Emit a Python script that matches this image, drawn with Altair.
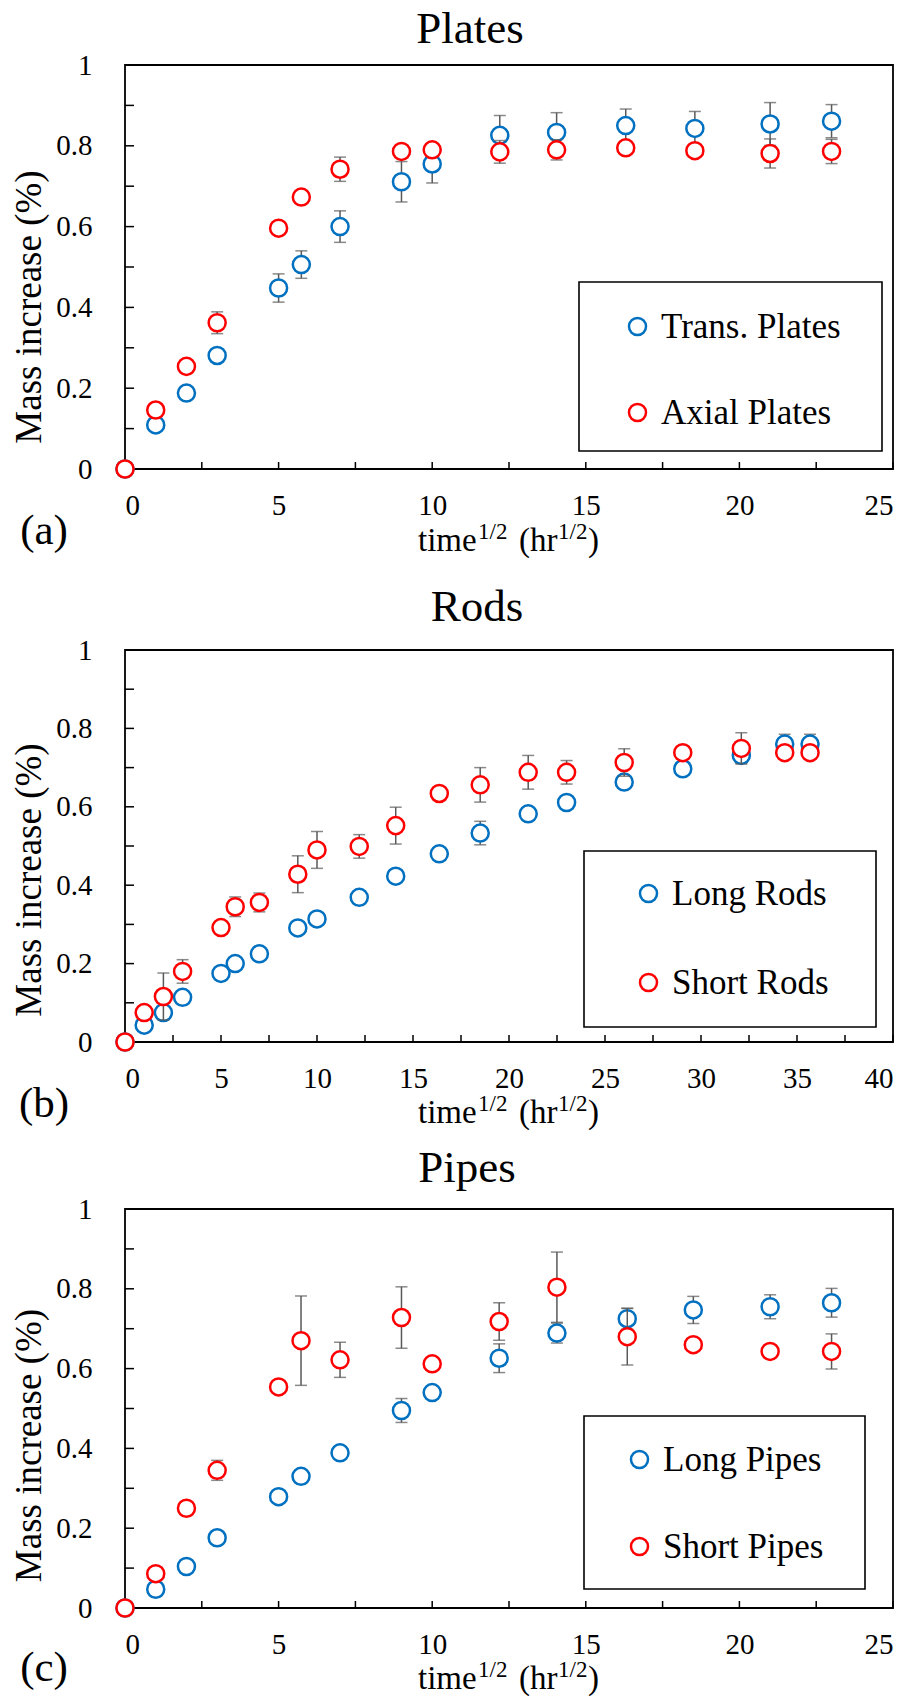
import altair as alt
import pandas as pd

FONT = "Liberation Serif"
BLUE = "#0070C0"
RED = "#FF0000"
ERRC = "#595959"

# ---------------- data ----------------
plates_x = [0, 1, 2, 3, 5, 5.74, 7, 9, 10, 12.2, 14.05, 16.3, 18.55, 21, 23]
trans_y = [0, 0.109, 0.188, 0.281, 0.448, 0.506, 0.600, 0.711, 0.755, 0.826, 0.833, 0.850, 0.843, 0.854, 0.861]
trans_e = [0, 0, 0, 0, 0.035, 0.034, 0.039, 0.05, 0.047, 0.049, 0.049, 0.041, 0.042, 0.053, 0.041]
axial_y = [0, 0.146, 0.254, 0.362, 0.596, 0.673, 0.742, 0.786, 0.790, 0.785, 0.790, 0.795, 0.788, 0.781, 0.786]
axial_e = [0, 0, 0, 0.027, 0, 0, 0.03, 0, 0, 0.028, 0.025, 0, 0, 0.036, 0.03]

rods_x = [0, 1, 2, 3, 5, 5.74, 7, 9, 10, 12.2, 14.1, 16.37, 18.5, 21, 23, 26, 29.05, 32.1, 34.36, 35.68]
long_rods_y = [0, 0.043, 0.075, 0.114, 0.175, 0.200, 0.225, 0.291, 0.314, 0.369, 0.423, 0.480, 0.533,
               0.582, 0.611, 0.663, 0.697, 0.731, 0.760, 0.760]
long_rods_e = [0, 0, 0, 0, 0, 0, 0, 0, 0, 0, 0, 0, 0.03, 0, 0, 0, 0, 0.02, 0.025, 0.025]
short_rods_y = [0, 0.075, 0.116, 0.180, 0.292, 0.345, 0.356, 0.428, 0.490, 0.499, 0.552, 0.634, 0.656,
                0.688, 0.688, 0.713, 0.738, 0.749, 0.738, 0.738]
short_rods_e = [0, 0, 0.06, 0.03, 0, 0.025, 0.024, 0.047, 0.047, 0.03, 0.047, 0, 0.044, 0.043, 0.03,
                0.035, 0, 0.04, 0, 0]

pipes_x = [0, 1, 2, 3, 5, 5.73, 7, 9, 10, 12.18, 14.06, 16.35, 18.5, 21, 23]
long_pipes_y = [0, 0.047, 0.104, 0.176, 0.279, 0.330, 0.389, 0.495, 0.540, 0.626, 0.689, 0.725, 0.747, 0.755, 0.765]
long_pipes_e = [0, 0, 0, 0, 0, 0, 0, 0.03, 0, 0.036, 0.025, 0.026, 0.034, 0.03, 0.036]
short_pipes_y = [0, 0.086, 0.250, 0.345, 0.554, 0.670, 0.622, 0.728, 0.612, 0.718, 0.804, 0.680, 0.660, 0.643, 0.643]
short_pipes_e = [0, 0, 0, 0.025, 0, 0.112, 0.044, 0.077, 0, 0.047, 0.088, 0.071, 0, 0, 0.044]

y_labels = [0, 0.2, 0.4, 0.6, 0.8, 1]
y_minor = [0, 0.1, 0.2, 0.3, 0.4, 0.5, 0.6, 0.7, 0.8, 0.9, 1.0]
x_labels_25 = [0, 5, 10, 15, 20, 25]
x_minor_25 = [0, 2.5, 5, 7.5, 10, 12.5, 15, 17.5, 20, 22.5, 25]
x_labels_40 = [0, 5, 10, 15, 20, 25, 30, 35, 40]
x_minor_40 = [0, 2.5, 5, 7.5, 10, 12.5, 15, 17.5, 20, 22.5, 25, 27.5, 30, 32.5, 35, 37.5, 40]

one = pd.DataFrame({"k": [0]})
W = 768


def panel(title, tag, xs, names, ys1, es1, ys2, es2, xmax, xlab, xmin, H,
          title_y, title_x, ytitle_dy, xt_base, tag_y,
          leg_x, leg_y, row_pad, box, extra_bottom=None):
    xscale = alt.Scale(domain=[0, xmax], nice=False, zero=False)
    yscale = alt.Scale(domain=[0, 1], nice=False, zero=False)
    cscale = alt.Scale(domain=names, range=[BLUE, RED])
    xaxis = alt.Axis(values=xlab, format="~g", title=None, labelPadding=22, labelFont=FONT,
                     labelFontSize=29, labelColor="black")
    yaxis = alt.Axis(values=y_labels, format="~g", title=None, labelPadding=33,
                     labelFont=FONT, labelFontSize=29, labelColor="black")

    layers = []
    # legend frame
    layers.append(alt.Chart(one).mark_rect(fill="white", stroke="black", strokeWidth=1.6).encode(
        x=alt.value(box[0]), x2=alt.value(box[1]), y=alt.value(box[2]), y2=alt.value(box[3])))
    # inward ticks
    layers.append(alt.Chart(pd.DataFrame({"v": y_minor})).mark_rule(color="black", strokeWidth=1.5).encode(
        y=alt.Y("v:Q", scale=yscale, axis=yaxis), x=alt.value(0), x2=alt.value(9)))
    layers.append(alt.Chart(pd.DataFrame({"v": xmin})).mark_rule(color="black", strokeWidth=1.5).encode(
        x=alt.X("v:Q", scale=xscale, axis=xaxis), y=alt.value(H), y2=alt.value(H - 7)))

    for name, ys, es in ((names[0], ys1, es1), (names[1], ys2, es2)):
        df = pd.DataFrame({"x": xs, "y": ys, "e": es})
        df["lo"] = df["y"] - df["e"]
        df["hi"] = df["y"] + df["e"]
        df["series"] = name
        edf = df[df["e"] > 0]
        X = alt.X("x:Q", scale=xscale, axis=xaxis)
        layers.append(alt.Chart(edf).mark_rule(color=ERRC, strokeWidth=1.5).encode(
            x=X, y=alt.Y("lo:Q", scale=yscale, axis=yaxis), y2="hi:Q"))
        for f in ("lo", "hi"):
            layers.append(alt.Chart(edf).mark_tick(orient="horizontal", color=ERRC, size=12,
                                                   thickness=1.5).encode(
                x=X, y=alt.Y(f + ":Q", scale=yscale, axis=yaxis)))
        layers.append(alt.Chart(df).mark_point(shape="circle", size=290, strokeWidth=2.5, fill="white",
                                               fillOpacity=1, opacity=1).encode(
            x=X, y=alt.Y("y:Q", scale=yscale, axis=yaxis),
            color=alt.Color("series:N", scale=cscale,
                            legend=alt.Legend(title=None, orient="none", legendX=leg_x, legendY=leg_y,
                                              padding=0, rowPadding=row_pad, labelFont=FONT,
                                              labelFontSize=35, labelColor="black", labelOffset=6,
                                              labelLimit=0, symbolType="circle", symbolSize=290,
                                              symbolStrokeWidth=2.5, symbolFillColor="white"))))

    # chart title
    layers.append(alt.Chart(one).mark_text(text=title, font=FONT, fontSize=45, align="center",
                                           baseline="middle", color="black").encode(
        x=alt.value(title_x), y=alt.value(title_y)))
    # y-axis title
    layers.append(alt.Chart(one).mark_text(text="Mass increase (%)", font=FONT, fontSize=37, angle=270,
                                           align="center", baseline="middle", color="black").encode(
        x=alt.value(-95), y=alt.value(H / 2 + ytitle_dy)))
    # x-axis title with superscripts
    x0 = W / 2 - 91
    pieces = [("time", 0, 0, 33), ("1/2", 60, -12, 23), ("(hr", 101, 0, 33), ("1/2", 140, -12, 23),
              (")", 170, 0, 33)]
    for txt, dx, dy, fs in pieces:
        layers.append(alt.Chart(one).mark_text(text=txt, font=FONT, fontSize=fs, align="left",
                                               baseline="alphabetic", color="black").encode(
            x=alt.value(x0 + dx), y=alt.value(H + xt_base + dy)))
    # panel tag
    layers.append(alt.Chart(one).mark_text(text=tag, font=FONT, fontSize=43, align="center",
                                           baseline="middle", color="black").encode(
        x=alt.value(-81), y=alt.value(H + tag_y)))
    if extra_bottom is not None:
        layers.append(alt.Chart(one).mark_rule(strokeOpacity=0, opacity=0).encode(
            x=alt.value(0), x2=alt.value(2), y=alt.value(H + extra_bottom)))

    return alt.layer(*layers).properties(width=W, height=H)


pa = panel("Plates", "(a)", plates_x, ["Trans. Plates", "Axial Plates"], trans_y, trans_e, axial_y, axial_e,
           25, x_labels_25, x_minor_25, 404, -36, 345, 40, 82, 62,
           495, 244, 50, [454, 757, 217, 386], extra_bottom=100)
pb = panel("Rods", "(b)", rods_x, ["Long Rods", "Short Rods"], long_rods_y, long_rods_e, short_rods_y,
           short_rods_e, 40, x_labels_40, x_minor_40, 392, -43, 352, 34, 81, 62,
           506, 226, 53, [459, 751, 201, 377])
pc = panel("Pipes", "(c)", pipes_x, ["Long Pipes", "Short Pipes"], long_pipes_y, long_pipes_e, short_pipes_y,
           short_pipes_e, 25, x_labels_25, x_minor_25, 399, -41, 342, 37, 81, 60,
           497, 233, 51, [459, 740, 207, 380])

chart = alt.vconcat(pa, pb, pc, spacing=14).resolve_scale(color="independent").properties(
    padding={"left": 10, "top": 6, "right": 5, "bottom": 0}, background="white"
).configure_view(stroke="black", strokeWidth=1.8).configure_axis(
    labelFont=FONT, labelFontSize=29, labelColor="black", domain=False, ticks=False, tickSize=0, grid=False
)

chart.save("out.html", embed_options={"renderer": "svg", "actions": False})
